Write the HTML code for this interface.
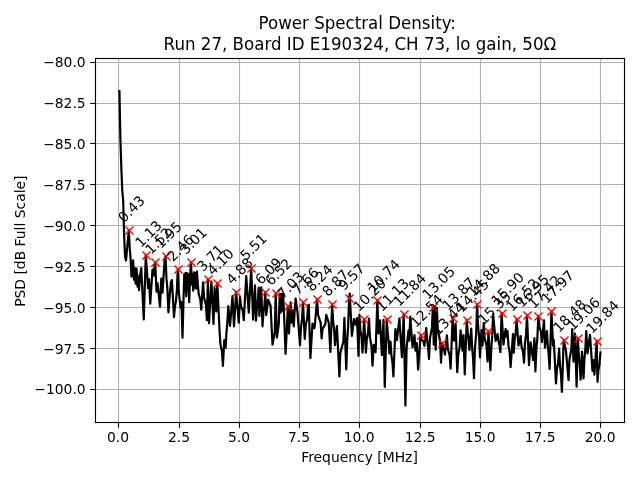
<!DOCTYPE html>
<html lang="en"><head><meta charset="utf-8"><title>Power Spectral Density</title>
<style>html,body{margin:0;padding:0;background:#fff;overflow:hidden}svg{display:block}text{font-family:'DejaVu Sans','Liberation Sans',sans-serif;fill:#000}.t{font-size:13.889px}.h{font-size:16.667px}.g{stroke:#b0b0b0;stroke-width:1.11;fill:none}.k{stroke:#000;stroke-width:1.11;fill:none}.m{stroke:#f00;stroke-width:1.40;fill:none;stroke-linecap:butt}.c{stroke:#000;stroke-width:2.200;fill:none;stroke-linejoin:round;stroke-linecap:square}</style></head><body>
<svg width="640" height="480" viewBox="0 0 640 480">
<rect x="0" y="0" width="640" height="480" fill="#fff"/>
<path class="g" d="M118.5 58.5V422.5M179.5 58.5V422.5M239.5 58.5V422.5M299.5 58.5V422.5M359.5 58.5V422.5M420.5 58.5V422.5M480.5 58.5V422.5M540.5 58.5V422.5M600.5 58.5V422.5M95.5 62.5H624.5M95.5 103.5H624.5M95.5 143.5H624.5M95.5 184.5H624.5M95.5 225.5H624.5M95.5 266.5H624.5M95.5 307.5H624.5M95.5 348.5H624.5M95.5 389.5H624.5"/>
<path class="k" d="M118.5 422.5v5.3M179.5 422.5v5.3M239.5 422.5v5.3M299.5 422.5v5.3M359.5 422.5v5.3M420.5 422.5v5.3M480.5 422.5v5.3M540.5 422.5v5.3M600.5 422.5v5.3M95.5 62.5h-5.3M95.5 103.5h-5.3M95.5 143.5h-5.3M95.5 184.5h-5.3M95.5 225.5h-5.3M95.5 266.5h-5.3M95.5 307.5h-5.3M95.5 348.5h-5.3M95.5 389.5h-5.3"/>
<clipPath id="ax"><rect x="95.5" y="58.5" width="529" height="364"/></clipPath>
<g clip-path="url(#ax)">
<polyline class="c" points="119.42,91 120.36,138 121.3,167 122.25,190 123.19,201 124.13,236 125.07,257 126,260.5 128.83,230.2 129.78,248.76 130.56,258.04 131.5,276.6 133.1,260.4 134,279.6 134.8,268 135.6,283.6 136.6,268.5 137.5,286.6 138.2,276 139,290.2 140.2,275 141.25,268 143.75,319.35 145.78,255.2 148.1,288.1 149,279 150.25,303.6 152.5,269.7 153.5,275.6 155.19,262.2 156.5,291.6 157.5,283 160,306.6 161.25,278.5 162.5,292.6 164.6,260.5 165.54,256.2 166.49,278.64 167.46,289.86 168.4,312.3 170.9,281.5 171.4,289.6 171.9,280 174,317.1 174.94,306.66 175.9,301.44 176.84,291 177.78,269.2 178.75,292 180.6,307.6 181.5,302 182.5,337.7 183.5,300 184.3,274 185,290.6 185.6,272.9 186.3,296.5 187,273 187.8,290.6 188.5,274 189.2,302.1 190.1,276 190.96,262.2 191.9,284.6 192.6,274 193.2,290.6 194,272.25 194.8,287.6 195.6,273 196.3,288.6 196.9,271.3 197.8,284 198.74,294.24 200.31,299.36 201.25,309.6 203.1,282.25 204.04,297.43 205.96,305.02 206.9,320.2 207.9,279.2 209,323.1 211.4,281.5 213.5,324 214.6,288 216.25,311.5 217.32,283.2 219.5,330 220.44,344.36 221.96,351.54 222.9,365.9 224.3,340 225.6,347.7 226.54,331.02 227.36,322.68 228.3,306 230,325.85 232.5,296 234,326.5 236.14,292.2 237.08,304.4 237.81,310.5 238.75,322.7 240,296.9 240.94,306.22 242.81,310.88 243.75,320.2 246.25,276 248.75,312.7 251.2,268.2 253.1,319.6 255,285.4 256,320.6 256.94,307.36 257.81,300.74 258.75,287.5 259.4,315.85 261.25,287.25 262.5,326.5 263.44,312.78 264.38,305.92 265.32,292.2 266.25,315.2 268.1,299.75 270.6,306 272.5,344.6 274.75,332.25 275.68,293.2 276.9,337.7 278.8,324 279.7,293.8 280.6,312.6 281.5,294 282.4,310.6 283.2,293.5 285.6,354 287.91,306.2 289,333.35 290.6,302.25 291.6,322.6 292.5,310 293.75,326.5 294.6,312 295.6,298.5 297.5,312.25 300,345.2 300.94,328 302.03,319.4 302.97,302.2 304.75,339 305.69,325.56 307.16,318.84 308.1,305.4 308.75,304.75 310.4,358.1 312.5,323.5 314.4,328.35 315,323.5 317.09,299.2 318.03,314.86 320.66,322.69 321.6,338.35 322.54,328.91 325.31,324.19 326.25,314.75 328.75,322.75 330.4,351.85 332.15,304.2 333.09,320.6 334.06,328.8 335,345.2 336.9,326 339.4,376.5 340.34,353.06 343.46,341.34 344.4,317.9 346.25,369.35 347.19,340.89 348.15,326.66 349.1,298.2 349.75,293.6 351.9,335.85 354,319 355.6,324.6 357,318 358.5,355.85 359.4,314.75 360.34,329.89 361.56,337.46 362.5,352.6 364.16,319.2 365.9,352.6 366.84,338.96 368.06,332.14 369,318.5 369.94,337.34 371.56,346.76 372.5,365.6 373.8,344.75 375.6,352.1 377.33,300.2 378.5,333.35 380,320.4 381.9,355.2 383.5,319.75 384.75,386.85 386.75,319.2 387.69,332.86 388.46,339.69 389.4,353.35 390.5,341.6 391.44,355.56 392.46,362.54 393.4,376.5 395.4,329 396.9,340.2 399.4,318.5 401.9,357.1 403.69,314.2 405.4,405.6 406.6,348 408.5,330.4 409.3,340.6 410.25,316.6 412.5,347.1 414.5,335 415.5,350.6 416.8,343 418.1,369.6 420.63,335.2 421.58,339.46 423.46,341.59 424.4,345.85 426.25,327.9 427.19,340.34 428.06,346.56 429,359 429.94,338.28 431.93,327.92 432.87,307.2 433.8,344.6 434.75,308.5 435.7,349.6 436.9,307.9 437.84,329.78 440.06,340.72 441,362.6 442.28,343.2 443.22,347.76 444.06,350.04 445,354.6 446.9,335.4 447.84,348.68 449.66,355.32 450.6,368.6 452.64,318.2 454,340.6 455.6,323.5 457.25,372.1 458.19,355.42 459.66,347.08 460.6,330.4 462.5,350.6 463.5,335 464.75,374.35 466.76,320.2 467.7,332.2 468.46,338.2 469.4,350.2 471.25,328.5 472.19,348.34 473.06,358.26 474,378.1 474.94,348.54 476.17,333.76 477.11,304.2 478.05,325.46 479.06,336.09 480,357.35 481.5,330 482.5,345.6 483.75,322.9 484.69,338.34 486.56,346.06 487.5,361.5 488.41,331.2 490.4,370.2 491.34,347.76 492.16,336.54 493.1,314.1 495.6,340.85 497.5,334 498.44,341.24 499.46,344.86 500.4,352.1 501.58,313.2 503.5,344.6 505.6,329 506.5,336.6 507.5,331 508.44,345.44 509.66,352.66 510.6,367.1 513,334 513.75,352.6 514.69,339.24 515.7,332.56 516.65,319.2 518.5,345.6 520.6,336 521.54,346.64 523.06,351.96 524,362.6 524.94,343.64 526.06,334.16 527,315.2 529,365.2 530.6,342.25 533.1,360.2 534.4,338 535.4,371.5 536.34,349.38 537.35,338.32 538.29,316.2 539.24,326.56 540.96,331.74 541.9,342.1 544,320.4 545,347.6 546.9,331 547.84,346.2 548.66,353.8 549.6,369 551.47,311.2 553,345.6 553.75,339.75 556,383.35 556.94,369.41 558.16,362.44 559.1,348.5 560.04,365.84 560.96,374.51 561.9,391.85 563.71,340.2 566,351 568.5,380.2 569.44,359.76 571.31,349.54 572.25,329.1 573.5,361.6 575,333.5 576.6,386.6 577.83,338.2 578.77,354.76 579.66,363.04 580.6,379.6 582,351.6 583.5,378.35 584.44,359.41 585.31,349.94 586.25,331 587.5,353.35 590,334.75 592.5,370.85 593.3,360 594.4,374.6 596.65,341.2 597.5,381.85 598.44,370.11 599.48,364.24 600.42,352.5"/>
<path class="m" d="M125.45 226.45l8.1 8.1m-8.1 0l8.1 -8.1M142.45 251.45l8.1 8.1m-8.1 0l8.1 -8.1M151.45 258.45l8.1 8.1m-8.1 0l8.1 -8.1M162.45 252.45l8.1 8.1m-8.1 0l8.1 -8.1M174.45 265.45l8.1 8.1m-8.1 0l8.1 -8.1M187.45 258.45l8.1 8.1m-8.1 0l8.1 -8.1M204.45 275.45l8.1 8.1m-8.1 0l8.1 -8.1M213.45 279.45l8.1 8.1m-8.1 0l8.1 -8.1M232.45 288.45l8.1 8.1m-8.1 0l8.1 -8.1M247.45 264.45l8.1 8.1m-8.1 0l8.1 -8.1M261.45 288.45l8.1 8.1m-8.1 0l8.1 -8.1M272.45 289.45l8.1 8.1m-8.1 0l8.1 -8.1M284.45 302.45l8.1 8.1m-8.1 0l8.1 -8.1M299.45 298.45l8.1 8.1m-8.1 0l8.1 -8.1M313.45 295.45l8.1 8.1m-8.1 0l8.1 -8.1M328.45 300.45l8.1 8.1m-8.1 0l8.1 -8.1M345.45 294.45l8.1 8.1m-8.1 0l8.1 -8.1M360.45 315.45l8.1 8.1m-8.1 0l8.1 -8.1M373.45 296.45l8.1 8.1m-8.1 0l8.1 -8.1M383.45 315.45l8.1 8.1m-8.1 0l8.1 -8.1M400.45 310.45l8.1 8.1m-8.1 0l8.1 -8.1M417.45 331.45l8.1 8.1m-8.1 0l8.1 -8.1M429.45 303.45l8.1 8.1m-8.1 0l8.1 -8.1M438.45 339.45l8.1 8.1m-8.1 0l8.1 -8.1M449.45 314.45l8.1 8.1m-8.1 0l8.1 -8.1M463.45 316.45l8.1 8.1m-8.1 0l8.1 -8.1M473.45 300.45l8.1 8.1m-8.1 0l8.1 -8.1M484.45 327.45l8.1 8.1m-8.1 0l8.1 -8.1M498.45 309.45l8.1 8.1m-8.1 0l8.1 -8.1M513.45 315.45l8.1 8.1m-8.1 0l8.1 -8.1M523.45 311.45l8.1 8.1m-8.1 0l8.1 -8.1M534.45 312.45l8.1 8.1m-8.1 0l8.1 -8.1M547.45 307.45l8.1 8.1m-8.1 0l8.1 -8.1M560.45 336.45l8.1 8.1m-8.1 0l8.1 -8.1M574.45 334.45l8.1 8.1m-8.1 0l8.1 -8.1M593.45 337.45l8.1 8.1m-8.1 0l8.1 -8.1"/>
</g>
<g class="t">
<text transform="translate(124 223.3) rotate(-45)">0.43</text>
<text transform="translate(141 248.3) rotate(-45)">1.13</text>
<text transform="translate(151 255.3) rotate(-45)">1.52</text>
<text transform="translate(161 249.3) rotate(-45)">1.95</text>
<text transform="translate(173 262.3) rotate(-45)">2.46</text>
<text transform="translate(186 255.3) rotate(-45)">3.01</text>
<text transform="translate(203 272.3) rotate(-45)">3.71</text>
<text transform="translate(213 276.3) rotate(-45)">4.10</text>
<text transform="translate(232 285.3) rotate(-45)">4.88</text>
<text transform="translate(246 261.3) rotate(-45)">5.51</text>
<text transform="translate(261 285.3) rotate(-45)">6.09</text>
<text transform="translate(271 286.3) rotate(-45)">6.52</text>
<text transform="translate(283 299.3) rotate(-45)">7.03</text>
<text transform="translate(298 295.3) rotate(-45)">7.66</text>
<text transform="translate(312 292.3) rotate(-45)">8.24</text>
<text transform="translate(328 297.3) rotate(-45)">8.87</text>
<text transform="translate(344 291.3) rotate(-45)">9.57</text>
<text transform="translate(359 312.3) rotate(-45)">10.20</text>
<text transform="translate(373 293.3) rotate(-45)">10.74</text>
<text transform="translate(382 312.3) rotate(-45)">11.13</text>
<text transform="translate(399 307.3) rotate(-45)">11.84</text>
<text transform="translate(416 328.3) rotate(-45)">12.54</text>
<text transform="translate(428 300.3) rotate(-45)">13.05</text>
<text transform="translate(438 336.3) rotate(-45)">13.44</text>
<text transform="translate(448 311.3) rotate(-45)">13.87</text>
<text transform="translate(462 313.3) rotate(-45)">14.45</text>
<text transform="translate(473 297.3) rotate(-45)">14.88</text>
<text transform="translate(484 325.3) rotate(-45)">15.35</text>
<text transform="translate(497 306.3) rotate(-45)">15.90</text>
<text transform="translate(512 312.3) rotate(-45)">16.52</text>
<text transform="translate(522 308.3) rotate(-45)">16.95</text>
<text transform="translate(534 309.3) rotate(-45)">17.42</text>
<text transform="translate(547 304.3) rotate(-45)">17.97</text>
<text transform="translate(559 333.3) rotate(-45)">18.48</text>
<text transform="translate(573 331.3) rotate(-45)">19.06</text>
<text transform="translate(592 334.3) rotate(-45)">19.84</text>
</g>
<rect class="k" x="95.5" y="58.5" width="529" height="364" style="stroke-linejoin:miter"/>
<g class="t" text-anchor="middle">
<text x="118.1" y="442">0.0</text>
<text x="179.1" y="442">2.5</text>
<text x="239.1" y="442">5.0</text>
<text x="299.1" y="442">7.5</text>
<text x="359.1" y="442">10.0</text>
<text x="420.1" y="442">12.5</text>
<text x="480.1" y="442">15.0</text>
<text x="540.1" y="442">17.5</text>
<text x="600.1" y="442">20.0</text>
<text x="359.5" y="462">Frequency [MHz]</text>
<text transform="translate(24.8 241.2) rotate(-90)">PSD [dB Full Scale]</text>
</g>
<g class="t" text-anchor="end">
<text x="85.7" y="67">−80.0</text>
<text x="85.7" y="108">−82.5</text>
<text x="85.7" y="149">−85.0</text>
<text x="85.7" y="190">−87.5</text>
<text x="85.7" y="231">−90.0</text>
<text x="85.7" y="272">−92.5</text>
<text x="85.7" y="313">−95.0</text>
<text x="85.7" y="354">−97.5</text>
<text x="85.7" y="394">−100.0</text>
</g>
<g class="h" text-anchor="middle">
<text transform="translate(357.25 29.1) scale(1 1.06)">Power Spectral Density:</text>
<text transform="translate(359.9 50) scale(1 1.06)">Run 27, Board ID E190324, CH 73, lo gain, 50Ω</text>
</g>
</svg></body></html>
